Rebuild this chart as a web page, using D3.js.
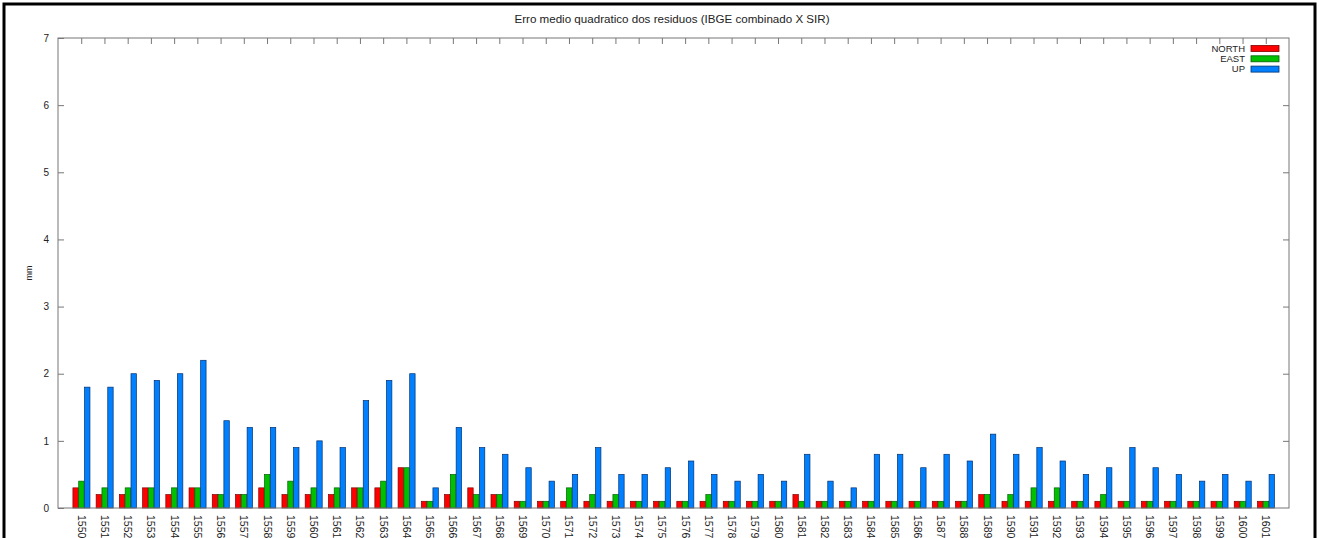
<!DOCTYPE html>
<html><head><meta charset="utf-8">
<script src="https://cdn.jsdelivr.net/npm/d3@7"></script>
<style>body{margin:0;background:#fff}svg{display:block}text{font-family:"Liberation Sans",Arial,sans-serif;fill:#222}</style>
</head><body><svg id="c" width="1319" height="538"></svg>
<script>
const categories = ["1550","1551","1552","1553","1554","1555","1556","1557","1558","1559","1560","1561","1562","1563","1564","1565","1566","1567","1568","1569","1570","1571","1572","1573","1574","1575","1576","1577","1578","1579","1580","1581","1582","1583","1584","1585","1586","1587","1588","1589","1590","1591","1592","1593","1594","1595","1596","1597","1598","1599","1600","1601"];
const north = [0.3,0.2,0.2,0.3,0.2,0.3,0.2,0.2,0.3,0.2,0.2,0.2,0.3,0.3,0.6,0.1,0.2,0.3,0.2,0.1,0.1,0.1,0.1,0.1,0.1,0.1,0.1,0.1,0.1,0.1,0.1,0.2,0.1,0.1,0.1,0.1,0.1,0.1,0.1,0.2,0.1,0.1,0.1,0.1,0.1,0.1,0.1,0.1,0.1,0.1,0.1,0.1];
const east  = [0.4,0.3,0.3,0.3,0.3,0.3,0.2,0.2,0.5,0.4,0.3,0.3,0.3,0.4,0.6,0.1,0.5,0.2,0.2,0.1,0.1,0.3,0.2,0.2,0.1,0.1,0.1,0.2,0.1,0.1,0.1,0.1,0.1,0.1,0.1,0.1,0.1,0.1,0.1,0.2,0.2,0.3,0.3,0.1,0.2,0.1,0.1,0.1,0.1,0.1,0.1,0.1];
const up    = [1.8,1.8,2.0,1.9,2.0,2.2,1.3,1.2,1.2,0.9,1.0,0.9,1.6,1.9,2.0,0.3,1.2,0.9,0.8,0.6,0.4,0.5,0.9,0.5,0.5,0.6,0.7,0.5,0.4,0.5,0.4,0.8,0.4,0.3,0.8,0.8,0.6,0.8,0.7,1.1,0.8,0.9,0.7,0.5,0.6,0.9,0.6,0.5,0.4,0.5,0.4,0.5];
const seriesNames = ["NORTH","EAST","UP"];
const seriesColors = ["#ff0000","#00c000","#0080ff"];
const strokeColors = ["#800000","#006000","#003070"];
const yTicks = [0,1,2,3,4,5,6,7];
const title = "Erro medio quadratico dos residuos (IBGE combinado X SIR)";
const yLabel = "mm";

const svg = d3.select("#c");
const L = 58, R = 1289, T = 38, B = 508;
const series = [north, east, up];

// frame
svg.append("rect").attr("x",4).attr("y",4).attr("width",1311).attr("height",560)
  .attr("fill","none").attr("stroke","#000").attr("stroke-width",3);

const x = d3.scaleLinear().domain([0, categories.length + 1]).range([L, R]);
const y = d3.scaleLinear().domain([0, 7]).range([B, T]);
const bw = x(0.25) - x(0);

// bars
series.forEach((vals, s) => {
  svg.append("g").selectAll("rect").data(vals).join("rect")
    .attr("x", (d,i) => x(i + 1 + (s - 1) * 0.25) - bw/2 + 0.4)
    .attr("y", d => y(d))
    .attr("width", bw - 0.4)
    .attr("height", d => B - y(d))
    .attr("fill", seriesColors[s])
    .attr("stroke", strokeColors[s]).attr("stroke-width", 0.7);
});

// axes box
svg.append("rect").attr("x",L).attr("y",T).attr("width",R-L).attr("height",B-T)
  .attr("fill","none").attr("stroke","#777").attr("stroke-width",1);

// y ticks
const yAxisL = d3.axisLeft(y).tickValues(yTicks).tickSize(-6).tickPadding(9).tickFormat(d3.format("d"));
const gy = svg.append("g").attr("transform",`translate(${L},0)`).call(yAxisL);
gy.select(".domain").remove();
gy.selectAll("line").attr("stroke","#777");
gy.selectAll("text").attr("font-size",10).attr("fill","#222").style("font-family","Liberation Sans, Arial");
const yAxisR = d3.axisRight(y).tickValues(yTicks.slice(1,-1)).tickSize(-6).tickFormat("");
const gyr = svg.append("g").attr("transform",`translate(${R},0)`).call(yAxisR);
gyr.select(".domain").remove();
gyr.selectAll("line").attr("stroke","#777");

// x ticks
const xTickVals = categories.map((c,i) => i + 1);
const xAxisB = d3.axisBottom(x).tickValues(xTickVals).tickSize(0).tickPadding(0).tickFormat((d) => categories[d-1]);
const gx = svg.append("g").attr("transform",`translate(0,${B})`).call(xAxisB);
gx.select(".domain").remove();
gx.selectAll("text").attr("font-size",10.5).attr("fill","#222")
  .style("font-family","Liberation Sans, Arial")
  .attr("text-anchor","start").attr("dy",null).attr("y",0)
  .attr("transform","translate(-4,7) rotate(90)");
const xAxisT = d3.axisTop(x).tickValues(xTickVals).tickSize(-6).tickFormat("");
const gxt = svg.append("g").attr("transform",`translate(0,${T})`).call(xAxisT);
gxt.select(".domain").remove();
gxt.selectAll("line").attr("stroke","#777");

// title
svg.append("text").attr("x",672).attr("y",23).attr("text-anchor","middle")
  .attr("font-size",11.6).text(title);
// y label
svg.append("text").attr("transform","translate(32,273) rotate(-90)").attr("text-anchor","middle")
  .attr("font-size",9).text(yLabel);

// legend
const lg = svg.append("g");
seriesNames.forEach((n,s) => {
  const yy = 48 + s*10.3;
  lg.append("text").attr("x",1245).attr("y",yy+3.5).attr("text-anchor","end").attr("font-size",9.5).text(n);
  lg.append("rect").attr("x",1251).attr("y",yy-2.5).attr("width",28).attr("height",6)
    .attr("fill",seriesColors[s]).attr("stroke",strokeColors[s]).attr("stroke-width",0.8);
});
</script></body></html>
